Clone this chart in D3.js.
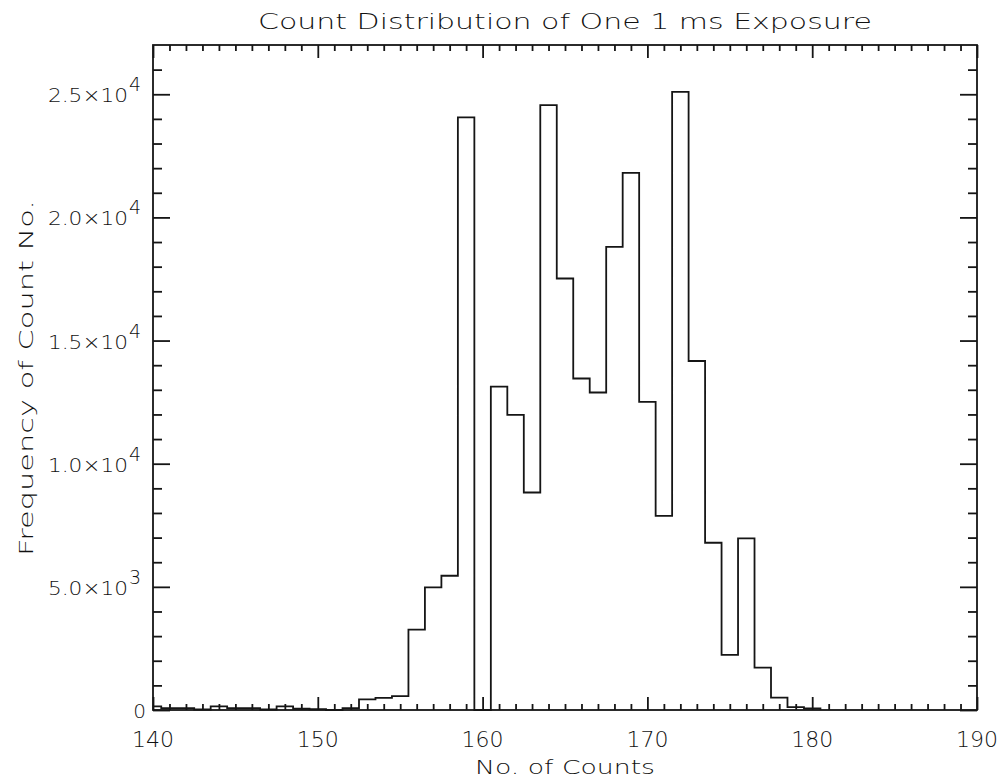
<!DOCTYPE html>
<html><head><meta charset="utf-8">
<script src="https://cdn.jsdelivr.net/npm/d3@7/dist/d3.min.js"></script>
<style>
html,body{margin:0;padding:0;background:#fff;}
text{font-family:"DejaVu Sans",sans-serif;font-weight:200;fill:#111;}
</style></head>
<body>
<svg id="c" width="1000" height="779"></svg>
<script>
// Data (bin centers and counts)
const binCenters = [140,141,142,143,144,145,146,147,148,149,150,151,152,153,154,155,156,157,158,159,160,
  161,162,163,164,165,166,167,168,169,170,171,172,173,174,175,176,177,178,179,180];
const counts = [150,80,80,20,150,80,80,20,150,50,30,0,80,435,490,560,3260,4980,5450,24060,0,
  13130,11980,8830,24560,17520,13460,12890,18800,21810,12510,7880,25100,14170,6790,2240,6970,1720,505,120,60];
const xTicksMajor = [140,150,160,170,180,190];
const xTickLabels = ["140","150","160","170","180","190"];
const yTicksMajor = [0,5000,10000,15000,20000,25000];
const yTickMantissa = ["0","5.0×10","1.0×10","1.5×10","2.0×10","2.5×10"];
const yTickExponent = ["","3","4","4","4","4"];
const titleText = "Count Distribution of One 1 ms Exposure";
const xTitle = "No. of Counts";
const yTitle = "Frequency of Count No.";

const L=153, R=977, T=45, B=710;
const x = d3.scaleLinear().domain([140,190]).range([L,R]);
const y = d3.scaleLinear().domain([0,27000]).range([B,T]);
const svg = d3.select("#c");
const ink = "#151515";
const sw = 1.8;

// Frame
svg.append("rect").attr("x",L).attr("y",T).attr("width",R-L).attr("height",B-T)
  .attr("fill","none").attr("stroke",ink).attr("stroke-width",sw);

// Ticks via axes (inward)
const xMinor = d3.range(141,190).filter(v=>v%10!==0);
const yMinor = d3.range(1000,27000,1000).filter(v=>v%5000!==0);
function styleAxis(g){ g.select(".domain").remove(); g.selectAll("line").attr("stroke",ink).attr("stroke-width",sw); g.selectAll("text").remove(); }
svg.append("g").attr("transform",`translate(0,${B})`).call(d3.axisTop(x).tickValues(xMinor).tickSize(6)).call(styleAxis);
svg.append("g").attr("transform",`translate(0,${B})`).call(d3.axisTop(x).tickValues(xTicksMajor).tickSize(13)).call(styleAxis);
svg.append("g").attr("transform",`translate(0,${T})`).call(d3.axisBottom(x).tickValues(xMinor).tickSize(6)).call(styleAxis);
svg.append("g").attr("transform",`translate(0,${T})`).call(d3.axisBottom(x).tickValues(xTicksMajor).tickSize(13)).call(styleAxis);
svg.append("g").attr("transform",`translate(${L},0)`).call(d3.axisRight(y).tickValues(yMinor).tickSize(9)).call(styleAxis);
svg.append("g").attr("transform",`translate(${L},0)`).call(d3.axisRight(y).tickValues(yTicksMajor).tickSize(17)).call(styleAxis);
svg.append("g").attr("transform",`translate(${R},0)`).call(d3.axisLeft(y).tickValues(yMinor).tickSize(9)).call(styleAxis);
svg.append("g").attr("transform",`translate(${R},0)`).call(d3.axisLeft(y).tickValues(yTicksMajor).tickSize(17)).call(styleAxis);

// Histogram step line
const pts = [];
binCenters.forEach((c,i)=>{
  const x0 = Math.max(140, c-0.5), x1 = c+0.5;
  pts.push([x0, counts[i]]); pts.push([x1, counts[i]]);
});
pts.push([binCenters[binCenters.length-1]+0.5, 0]);
svg.append("path").datum(pts)
  .attr("d", d3.line().x(d=>x(d[0])).y(d=>y(d[1])))
  .attr("fill","none").attr("stroke",ink).attr("stroke-width",sw);

// X tick labels
svg.selectAll(".xl").data(xTicksMajor).join("text")
  .attr("x",d=>x(d)).attr("y",747).attr("text-anchor","middle")
  .attr("font-size",22).text((d,i)=>xTickLabels[i]);

// Y tick labels
yTicksMajor.forEach((v,i)=>{
  const ty = y(v);
  if(yTickExponent[i]===""){
    svg.append("text").attr("x",146).attr("y",ty+8).attr("text-anchor","end")
      .attr("font-size",20).text(yTickMantissa[i]);
  } else {
    svg.append("text").attr("x",48).attr("y",ty+8)
      .attr("font-size",20).attr("textLength",80).attr("lengthAdjust","spacingAndGlyphs")
      .text(yTickMantissa[i]);
    svg.append("text").attr("x",129).attr("y",ty-3)
      .attr("font-size",19).text(yTickExponent[i]);
  }
});

// Titles
svg.append("text").attr("x",565).attr("y",29).attr("text-anchor","middle")
  .attr("font-size",22).attr("textLength",614).attr("lengthAdjust","spacingAndGlyphs").text(titleText);
svg.append("text").attr("x",565).attr("y",774).attr("text-anchor","middle")
  .attr("font-size",20).attr("textLength",180).attr("lengthAdjust","spacingAndGlyphs").text(xTitle);
svg.append("text").attr("transform","translate(33,378) rotate(-90)").attr("text-anchor","middle")
  .attr("font-size",20).attr("textLength",356).attr("lengthAdjust","spacingAndGlyphs").text(yTitle);
</script>
</body></html>
